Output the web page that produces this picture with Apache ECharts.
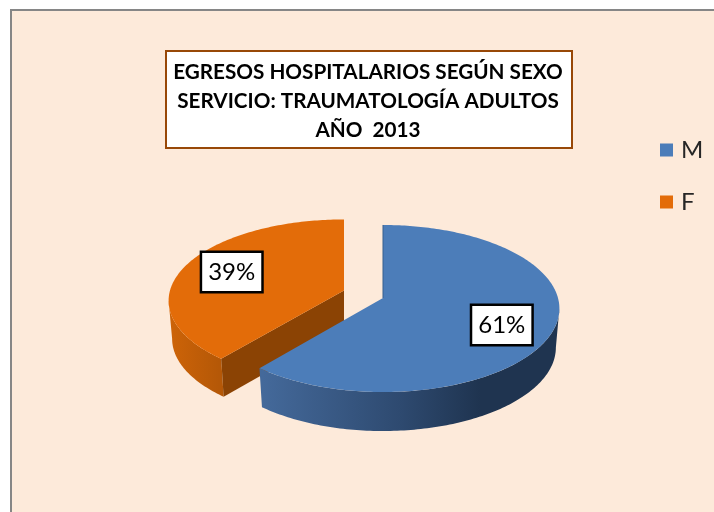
<!DOCTYPE html>
<html><head><meta charset="utf-8">
<style>html,body{margin:0;padding:0;background:#fff}#c{width:714px;height:512px}</style>
<script src="https://cdn.jsdelivr.net/npm/echarts@6/dist/echarts.min.js"></script>
</head><body><div id="c"></div>
<script>
const categories = ['M', 'F'];
const values = [61, 39];
const titleLines = ['EGRESOS HOSPITALARIOS SEGÚN SEXO', 'SERVICIO: TRAUMATOLOGÍA ADULTOS', 'AÑO  2013'];

const total = values.reduce((a, b) => a + b, 0);
const P = 0.1257, DEG = Math.PI / 180;
const SILH_R = Math.acos(-P) / DEG, SILH_L = 360 - SILH_R;

const look = {
  M: { cx: 383, cy: 298, R: 175, S: 82.2, H: 39, labelDy: 7, labelDx: 0,
       top: '#4C7DB9', wall: ['#44699A', '#2E4A70', '#1F3450', '#1F3450'], wx: [263, 400, 480, 556], cut: null, seam: '#36608F' },
  F: { cx: 344, cy: 290.5, R: 174, S: 80, H: 38, labelDy: 0, labelDx: -1,
       top: '#E36C09', wall: ['#CC6308', '#B55807'], wx: [172, 219], cut: '#8B4304', seam: null }
};

function project(s, deg, r, bottom) {
  const u = Math.sin(deg * DEG) * r, v = -Math.cos(deg * DEG) * r;
  const w = 1 - P * v, k = bottom ? 0.98 : 1;
  return [s.cx + s.R * k * u / w, s.cy + s.S * v / w + (bottom ? s.H : 0)];
}
function arc(s, a, b, bottom) {
  const pts = [], n = Math.max(2, Math.ceil(Math.abs(b - a)));
  for (let i = 0; i <= n; i++) pts.push(project(s, a + (b - a) * i / n, 1, bottom));
  return pts;
}
function sliceRender(name, startDeg, endDeg) {
  const s = look[name];
  return function () {
    const children = [];
    const a = Math.max(startDeg, SILH_R), b = Math.min(endDeg, SILH_L);
    if (b > a) {
      const x0 = s.wx[0], x1 = s.wx[s.wx.length - 1];
      const stops = s.wall.map((c, i) => ({ offset: (s.wx[i] - x0) / (x1 - x0), color: c }));
      children.push({
        type: 'polygon',
        shape: { points: arc(s, a, b, false).concat(arc(s, b, a, true)) },
        style: { fill: new echarts.graphic.LinearGradient(x0, 0, x1, 0, stops, true) }
      });
    }
    if (s.cut) {
      const c0 = project(s, startDeg, 1, false), c1 = project(s, startDeg, 1, true);
      children.push({
        type: 'polygon',
        shape: { points: [[s.cx, s.cy], c0, c1, [s.cx, s.cy + s.H]] },
        style: { fill: s.cut }
      });
    }
    children.push({
      type: 'polygon',
      shape: { points: [[s.cx, s.cy]].concat(arc(s, startDeg, endDeg, false)) },
      style: { fill: s.top }
    });
    if (s.seam) {
      children.push({
        type: 'line',
        shape: { x1: s.cx, y1: s.cy, x2: s.cx, y2: s.cy - s.S / (1 + P) },
        style: { stroke: s.seam, lineWidth: 1 }
      });
    }
    const mid = (startDeg + endDeg) / 2, lp = project(s, mid, 0.7, false);
    children.push({
      type: 'text',
      z2: 10,
      style: {
        x: lp[0] + s.labelDx, y: lp[1] + s.labelDy,
        text: Math.round((endDeg - startDeg) / 3.6) + '%',
        align: 'center', verticalAlign: 'middle',
        font: '24px Lato', fill: '#000',
        backgroundColor: '#fff', borderColor: '#000', borderWidth: 2.5,
        padding: [8, 6, 6, 6]
      }
    });
    return { type: 'group', children };
  };
}

let acc = 0;
const slices = categories.map((c, i) => {
  const start = acc / total * 360;
  acc += values[i];
  return { name: c, start, end: acc / total * 360, value: values[i] };
});
const series = slices.slice().reverse().map(sl => ({
  type: 'custom',
  name: sl.name,
  coordinateSystem: 'none',
  silent: true,
  itemStyle: { color: look[sl.name].top },
  data: [[sl.value]],
  renderItem: sliceRender(sl.name, sl.start, sl.end)
}));

const chart = echarts.init(document.getElementById('c'), null, { renderer: 'canvas' });
chart.setOption({
  animation: false,
  backgroundColor: '#fff',
  graphic: [{
    type: 'rect', z: -10,
    shape: { x: 11, y: 10, width: 720, height: 520 },
    style: { fill: '#FDEADA', stroke: '#868686', lineWidth: 2 }
  }, {
    type: 'rect', z: -5,
    shape: { x: 166, y: 51, width: 406, height: 97 },
    style: { fill: '#fff', stroke: '#984807', lineWidth: 2 }
  }],
  title: {
    text: titleLines.join('\n'),
    left: 363, top: 53,
    textAlign: 'center',
    textStyle: { fontFamily: 'Lato', fontWeight: 'bold', fontSize: 20.7, lineHeight: 29, color: '#000' }
  },
  legend: {
    data: categories, orient: 'vertical', left: 655, top: 133,
    icon: 'rect', itemWidth: 13, itemHeight: 13, itemGap: 28, selectedMode: false,
    textStyle: { fontFamily: 'Lato', fontSize: 24, color: '#262626', padding: [0, 0, 0, 3] }
  },
  series
});
</script></body></html>
